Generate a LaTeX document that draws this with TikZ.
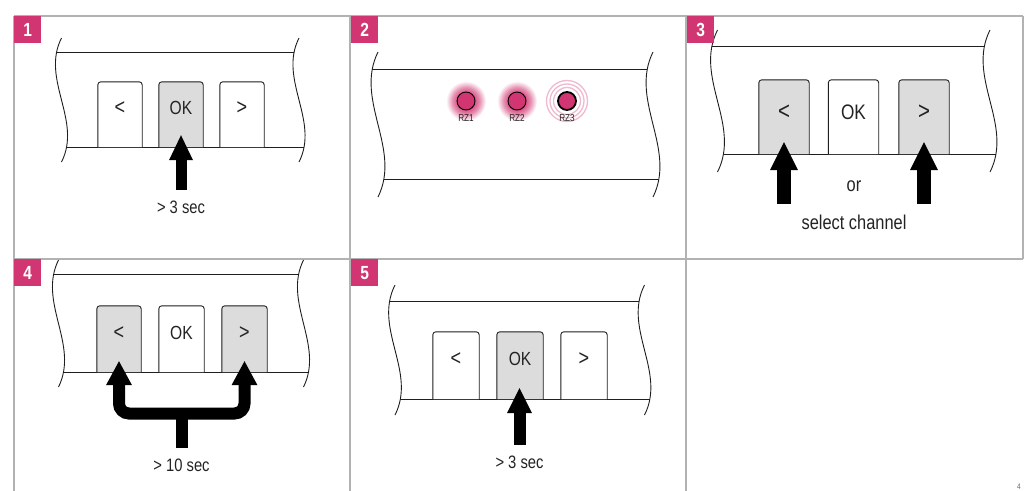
\documentclass[tikz,border=0pt]{standalone}
\usepackage{fontspec}
\setmainfont{Liberation Sans}[FakeStretch=0.82]
\usetikzlibrary{arrows.meta,calc}
\definecolor{brand}{RGB}{210,54,114}
\definecolor{gridgray}{RGB}{178,178,178}
\definecolor{keygray}{RGB}{220,220,220}
\definecolor{ink}{RGB}{30,30,30}
\definecolor{txt}{RGB}{35,35,35}
\colorlet{glowin}{brand!85!white}
\colorlet{glowmid}{brand!55!white}
\colorlet{ringpink}{brand!35!white}
\pgfdeclareradialshading{ledglow}{\pgfpoint{0bp}{0bp}}{color(0bp)=(glowin); color(11bp)=(glowin); color(17bp)=(glowmid); color(25bp)=(white); color(50bp)=(white)}
\newcommand\fs[1]{\fontsize{#1}{#1}\selectfont}
% strip with wavy break lines: xl, xr, ytop, height, amplitude, yupper, ylower
\newcommand\panelstrip[7]{%
  \begin{scope}
    \clip (#1,#3) .. controls +(-#5,#4/3) and +(#5,-#4/3) .. (#1,#3+#4)
      -- (#2,#3+#4) .. controls +(#5,-#4/3) and +(-#5,#4/3) .. (#2,#3) -- cycle;
    \draw[wave] (#1-30,#6) -- (#2+30,#6);
    \draw[wave] (#1-30,#7) -- (#2+30,#7);
  \end{scope}
  \draw[wave] (#1,#3) .. controls +(-#5,#4/3) and +(#5,-#4/3) .. (#1,#3+#4);
  \draw[wave] (#2,#3) .. controls +(-#5,#4/3) and +(#5,-#4/3) .. (#2,#3+#4);
}
\begin{document}
\begin{tikzpicture}[x=1pt,y=-1pt,
  grid/.style={draw=gridgray,line width=1.3pt},
  badge/.style={fill=brand,text=white,font=\bfseries\fs{19},minimum width=27pt,minimum height=27pt,inner sep=0pt,anchor=north west},
  wave/.style={draw=ink,line width=0.9pt},
  keynode/.style={inner sep=0pt,minimum width=#1pt},
  keyline/.style={draw=ink,line width=0.9pt,rounded corners=3pt},
  keytext/.style={text=txt,inner sep=0pt,font=\fs{#1}},
  chev/.style={text=txt,inner sep=0pt,font=\fs{#1}},
  caption/.style={text=txt,inner sep=0pt,font=\fs{#1}},
  led/.style={circle,fill=brand,draw=black,line width=0.9pt,minimum size=18pt,inner sep=0pt},
  rzlabel/.style={text=txt,inner sep=0pt,font=\fs{10}},
  push/.style n args={3}{draw=black,line width=#1pt,-{Triangle[width=#2pt,length=#3pt,line width=0pt]}},
]
\useasboundingbox (0,0) rectangle (1032,490);

% grid
\draw[grid] (14,16) -- (1023,16);
\draw[grid] (14,259) -- (1023,259);
\draw[grid] (14,16) -- (14,492);
\draw[grid] (350,16) -- (350,492);
\draw[grid] (686,16) -- (686,492);
\draw[grid] (1023,16) -- (1023,259);

% ---------- panel 1 ----------
\panelstrip{61.5}{299}{38}{124}{21}{52}{147}
\node[keynode=44,minimum height=65pt] (p1l) at (120,114.5) {};
\node[keynode=44,minimum height=65pt] (p1ok) at (181,114.5) {};
\node[keynode=44,minimum height=65pt] (p1r) at (242,114.5) {};
\draw[keyline,fill=white] (p1l.south west) -- (p1l.north west) -- (p1l.north east) -- (p1l.south east);
\draw[keyline,fill=keygray] (p1ok.south west) -- (p1ok.north west) -- (p1ok.north east) -- (p1ok.south east);
\draw[keyline,fill=white] (p1r.south west) -- (p1r.north west) -- (p1r.north east) -- (p1r.south east);
\node[chev=22] (p1lt) at (120,108) {<};
\node[keytext=19] (p1okt) at (181,108) {OK};
\node[chev=22] (p1rt) at (242,108) {>};
\coordinate (t1) at (181,190);
\coordinate (h1) at ($(p1ok.south)+(0,-12)$);
\draw[push={11}{24}{25}] (t1) -- (h1);
\node[caption=18] (c1) at (181,207) {> 3 sec};

% ---------- panel 2 ----------
\panelstrip{378}{653}{52}{145}{24}{69}{179}
\coordinate (g1) at (466,101);
\coordinate (g2) at (517,101);
\coordinate (g3) at (567,101);
\shade[shading=ledglow] (g1) circle[radius=20pt];
\shade[shading=ledglow] (g2) circle[radius=20pt];
\foreach \r in {13.5,17,20.5} \draw[ringpink,line width=1.3pt] (g3) circle[radius=\r pt];
\node[led] (rz1) at (g1) {};
\node[led] (rz2) at (g2) {};
\node[led,line width=1.8pt] (rz3) at (g3) {};
\node[rzlabel] (rz1t) at (466,118.5) {RZ1};
\node[rzlabel] (rz2t) at (517,118.5) {RZ2};
\node[rzlabel] (rz3t) at (567,118.5) {RZ3};

% ---------- panel 3 ----------
\panelstrip{717.5}{990}{30}{142}{24}{46}{154}
\node[keynode=50,minimum height=74pt] (p3l) at (784,117) {};
\node[keynode=50,minimum height=74pt] (p3ok) at (853.5,117) {};
\node[keynode=50,minimum height=74pt] (p3r) at (924,117) {};
\draw[keyline,fill=keygray] (p3l.south west) -- (p3l.north west) -- (p3l.north east) -- (p3l.south east);
\draw[keyline,fill=white] (p3ok.south west) -- (p3ok.north west) -- (p3ok.north east) -- (p3ok.south east);
\draw[keyline,fill=keygray] (p3r.south west) -- (p3r.north west) -- (p3r.north east) -- (p3r.south east);
\node[chev=25] (p3lt) at (784,112) {<};
\node[keytext=21] (p3okt) at (853.5,112) {OK};
\node[chev=25] (p3rt) at (924,112) {>};
\coordinate (t3l) at (784,204);
\coordinate (t3r) at (924,204);
\coordinate (h3l) at ($(p3l.south)+(0,-12)$);
\coordinate (h3r) at ($(p3r.south)+(0,-12)$);
\draw[push={14}{28}{28}] (t3l) -- (h3l);
\draw[push={14}{28}{28}] (t3r) -- (h3r);
\node[caption=20] (c3a) at (854,186) {or};
\node[caption=20] (c3b) at (854,222) {select channel};

% ---------- panel 4 ----------
\panelstrip{58.5}{303.5}{260}{127}{21}{274}{372}
\node[keynode=44,minimum height=66pt] (p4l) at (119,339) {};
\node[keynode=45,minimum height=66pt] (p4ok) at (181.5,339) {};
\node[keynode=45,minimum height=66pt] (p4r) at (244.5,339) {};
\draw[keyline,fill=keygray] (p4l.south west) -- (p4l.north west) -- (p4l.north east) -- (p4l.south east);
\draw[keyline,fill=white] (p4ok.south west) -- (p4ok.north west) -- (p4ok.north east) -- (p4ok.south east);
\draw[keyline,fill=keygray] (p4r.south west) -- (p4r.north west) -- (p4r.north east) -- (p4r.south east);
\node[chev=22] (p4lt) at (119,333) {<};
\node[keytext=19] (p4okt) at (181.5,333) {OK};
\node[chev=22] (p4rt) at (244.5,333) {>};
\coordinate (h4l) at ($(p4l.south)+(0,-11)$);
\coordinate (h4r) at ($(p4r.south)+(0,-11)$);
\coordinate (m4) at (181.5,413.5);
\coordinate (t4) at (181.5,448);
\draw[draw=black,line width=12pt,rounded corners=10pt,
  {Triangle[width=26pt,length=24pt,line width=0pt]}-{Triangle[width=26pt,length=24pt,line width=0pt]}]
  (h4l) -- (h4l |- m4) -- (h4r |- m4) -- (h4r);
\draw[draw=black,line width=12pt] (m4) -- (t4);
\node[caption=18] (c4) at (181.5,465) {> 10 sec};

% ---------- panel 5 ----------
\panelstrip{395}{644.5}{285}{130}{22}{301}{399}
\node[keynode=46,minimum height=67pt] (p5l) at (456,365.5) {};
\node[keynode=46,minimum height=67pt] (p5ok) at (520,365.5) {};
\node[keynode=46,minimum height=67pt] (p5r) at (584,365.5) {};
\draw[keyline,fill=white] (p5l.south west) -- (p5l.north west) -- (p5l.north east) -- (p5l.south east);
\draw[keyline,fill=keygray] (p5ok.south west) -- (p5ok.north west) -- (p5ok.north east) -- (p5ok.south east);
\draw[keyline,fill=white] (p5r.south west) -- (p5r.north west) -- (p5r.north east) -- (p5r.south east);
\node[chev=22] (p5lt) at (456,359) {<};
\node[keytext=19] (p5okt) at (520,359) {OK};
\node[chev=22] (p5rt) at (584,359) {>};
\coordinate (t5) at (519.5,445);
\coordinate (h5) at ($(p5ok.south)+(-0.5,-11)$);
\draw[push={12}{25}{25}] (t5) -- (h5);
\node[caption=18] (c5) at (519.5,462) {> 3 sec};

% badges
\node[badge] (n1) at (14,16) {1};
\node[badge] (n2) at (351,16) {2};
\node[badge] (n3) at (687,16) {3};
\node[badge] (n4) at (14,259) {4};
\node[badge] (n5) at (351,259) {5};

% page number
\node[anchor=south west,inner sep=0pt,text=txt!70,font=\fs{8}] (pg) at (1017,489.5) {4};
\end{tikzpicture}
\end{document}
